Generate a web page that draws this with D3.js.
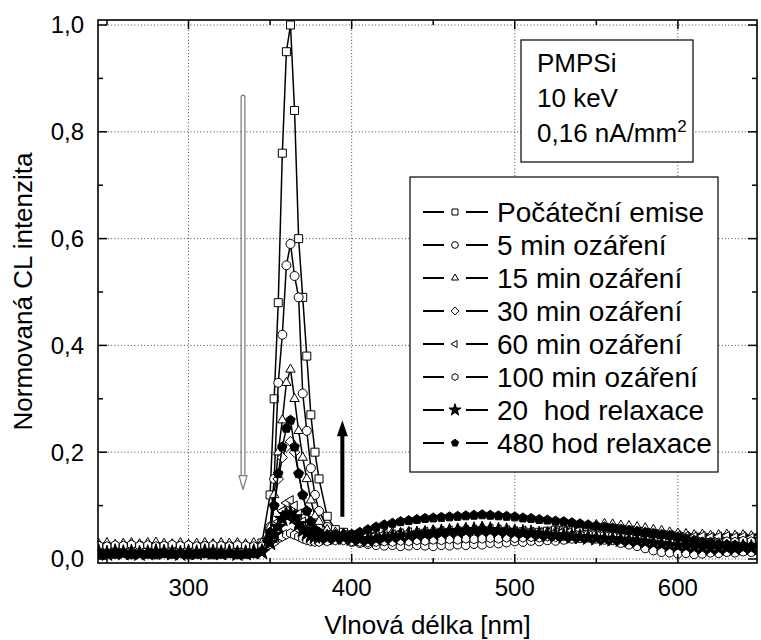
<!DOCTYPE html>
<html>
<head>
<meta charset="utf-8">
<script src="https://cdn.jsdelivr.net/npm/d3@7"></script>
<style>
  body { margin: 0; background: #fff; }
  svg { display: block; }
  text { font-family: "Liberation Sans", Arial, sans-serif; fill: #000; white-space: pre; }
</style>
</head>
<body>
<div id="chart"></div>
<script>
// vlnove delky [nm]
var wavelengths = [
  245,250,255,260,265,270,275,280,285,290,295,300,305,310,315,320,325,330,335,340,
  345,350,352.5,355,357.5,360,362.5,365,367.5,370,372.5,375,377.5,380,385,390,
  395,400,405,410,415,420,425,430,435,440,445,450,455,460,465,470,475,480,485,490,
  495,500,505,510,515,520,525,530,535,540,545,550,555,560,565,570,575,580,585,590,
  595,600,605,610,615,620,625,630,635,640,645,650
];

var seriesNames = [
  "Počáteční emise", "5 min ozáření", "15 min ozáření", "30 min ozáření",
  "60 min ozáření", "100 min ozáření", "20  hod relaxace", "480 hod relaxace"
];
var seriesSymbols = ["square", "circle", "triangle", "diamond", "triLeft", "hexagon", "star", "pentagon"];

var pocatecni = [
  0.02,0.018,0.021,0.019,0.02,0.018,0.019,0.021,0.02,0.019,0.018,0.02,0.019,0.021,0.02,0.018,0.019,0.02,0.019,0.021,
  0.03,0.12,0.3,0.48,0.76,0.95,1.0,0.84,0.6,0.49,0.38,0.27,0.2,0.15,0.08,0.055,
  0.05,0.045,0.04,0.04,0.042,0.04,0.043,0.045,0.044,0.046,0.048,0.047,0.05,0.049,0.05,0.052,0.05,0.053,0.051,0.05,
  0.052,0.05,0.051,0.049,0.05,0.052,0.054,0.053,0.055,0.056,0.055,0.057,0.056,0.055,0.054,0.052,0.05,0.049,0.047,0.046,
  0.045,0.043,0.042,0.04,0.041,0.04,0.038,0.04,0.039,0.04,0.038,0.04
];
var min5 = [
  0.022,0.025,0.023,0.024,0.022,0.023,0.021,0.022,0.02,0.021,0.022,0.02,0.021,0.019,0.02,0.021,0.02,0.019,0.02,0.021,
  0.02,0.06,0.15,0.33,0.42,0.55,0.59,0.53,0.49,0.31,0.24,0.17,0.12,0.09,0.06,0.045,
  0.04,0.032,0.03,0.028,0.026,0.025,0.026,0.024,0.025,0.026,0.025,0.024,0.026,0.025,0.027,0.026,0.028,0.027,0.03,0.029,
  0.031,0.033,0.032,0.034,0.033,0.035,0.034,0.036,0.038,0.039,0.04,0.038,0.036,0.035,0.03,0.027,0.024,0.02,0.016,0.013,
  0.012,0.01,0.011,0.009,0.01,0.012,0.011,0.013,0.012,0.014,0.013,0.015
];
var min15 = [
  0.028,0.03,0.027,0.029,0.03,0.028,0.03,0.031,0.029,0.028,0.03,0.027,0.029,0.03,0.028,0.03,0.029,0.03,0.028,0.03,
  0.03,0.06,0.12,0.2,0.26,0.33,0.355,0.3,0.24,0.19,0.15,0.11,0.08,0.07,0.055,0.05,
  0.048,0.046,0.045,0.047,0.046,0.048,0.05,0.049,0.051,0.05,0.052,0.054,0.053,0.055,0.056,0.058,0.057,0.06,0.058,0.056,
  0.055,0.054,0.052,0.05,0.049,0.05,0.052,0.054,0.057,0.06,0.062,0.064,0.066,0.065,0.063,0.062,0.06,0.058,0.055,0.053,
  0.05,0.048,0.047,0.045,0.046,0.044,0.045,0.046,0.044,0.045,0.043,0.045
];
var min30 = [
  0.018,0.02,0.017,0.019,0.018,0.02,0.019,0.017,0.018,0.02,0.019,0.018,0.017,0.019,0.018,0.02,0.018,0.017,0.019,0.018,
  0.022,0.05,0.1,0.15,0.19,0.21,0.22,0.2,0.16,0.12,0.09,0.07,0.055,0.05,0.042,0.04,
  0.04,0.038,0.036,0.035,0.036,0.038,0.037,0.039,0.04,0.041,0.04,0.042,0.043,0.042,0.044,0.045,0.044,0.046,0.045,0.044,
  0.045,0.043,0.044,0.042,0.043,0.044,0.045,0.046,0.048,0.05,0.051,0.05,0.049,0.047,0.045,0.043,0.04,0.038,0.036,0.034,
  0.033,0.032,0.031,0.03,0.03,0.029,0.03,0.028,0.029,0.03,0.028,0.03
];
var min60 = [
  0.022,0.02,0.023,0.021,0.022,0.024,0.022,0.021,0.023,0.022,0.021,0.023,0.022,0.024,0.022,0.021,0.023,0.022,0.021,0.022,
  0.022,0.035,0.05,0.07,0.09,0.105,0.11,0.1,0.085,0.07,0.058,0.05,0.047,0.045,0.045,0.046,
  0.045,0.043,0.042,0.044,0.045,0.047,0.046,0.048,0.05,0.049,0.051,0.05,0.052,0.053,0.052,0.054,0.055,0.054,0.056,0.055,
  0.054,0.052,0.053,0.051,0.05,0.049,0.05,0.052,0.053,0.055,0.056,0.058,0.057,0.056,0.054,0.052,0.05,0.049,0.047,0.046,
  0.045,0.044,0.043,0.042,0.043,0.041,0.042,0.043,0.041,0.042,0.04,0.042
];
var min100 = [
  0.025,0.024,0.026,0.025,0.027,0.025,0.026,0.024,0.025,0.027,0.025,0.026,0.024,0.025,0.026,0.025,0.024,0.026,0.025,0.024,
  0.024,0.028,0.032,0.038,0.042,0.046,0.048,0.045,0.042,0.038,0.035,0.033,0.032,0.032,0.033,0.035,
  0.035,0.033,0.032,0.031,0.032,0.033,0.032,0.034,0.033,0.035,0.034,0.036,0.035,0.037,0.036,0.038,0.037,0.038,0.039,0.038,
  0.04,0.039,0.04,0.041,0.04,0.042,0.041,0.043,0.044,0.045,0.046,0.045,0.044,0.043,0.041,0.04,0.038,0.036,0.034,0.033,
  0.032,0.031,0.03,0.031,0.03,0.032,0.031,0.033,0.032,0.034,0.033,0.035
];
var hod20 = [
  0.012,0.01,0.013,0.011,0.012,0.01,0.011,0.013,0.012,0.011,0.01,0.012,0.011,0.013,0.012,0.011,0.012,0.01,0.011,0.013,
  0.013,0.03,0.045,0.06,0.075,0.082,0.085,0.078,0.065,0.055,0.048,0.044,0.042,0.041,0.04,0.04,
  0.04,0.038,0.037,0.036,0.038,0.04,0.041,0.043,0.044,0.046,0.047,0.048,0.05,0.051,0.052,0.053,0.054,0.055,0.054,0.053,
  0.052,0.05,0.049,0.048,0.046,0.045,0.044,0.043,0.042,0.041,0.04,0.039,0.038,0.037,0.036,0.035,0.034,0.032,0.03,0.028,
  0.026,0.025,0.024,0.022,0.021,0.02,0.02,0.021,0.02,0.022,0.021,0.02
];
var hod480 = [
  0.008,0.01,0.009,0.011,0.008,0.01,0.009,0.008,0.01,0.009,0.011,0.008,0.009,0.01,0.008,0.009,0.01,0.008,0.009,0.01,
  0.015,0.05,0.1,0.16,0.21,0.245,0.26,0.21,0.16,0.12,0.09,0.07,0.055,0.05,0.045,0.045,
  0.045,0.046,0.05,0.055,0.06,0.064,0.067,0.07,0.072,0.074,0.076,0.077,0.078,0.079,0.08,0.081,0.082,0.083,0.082,0.081,
  0.08,0.079,0.077,0.076,0.074,0.073,0.071,0.07,0.068,0.066,0.064,0.062,0.06,0.058,0.056,0.054,0.052,0.05,0.048,0.046,
  0.044,0.041,0.038,0.035,0.032,0.03,0.028,0.027,0.026,0.025,0.024,0.025
];
var seriesValues = [pocatecni, min5, min15, min30, min60, min100, hod20, hod480];

var xTicks = [300, 400, 500, 600];
var yTicks = [0, 0.2, 0.4, 0.6, 0.8, 1.0];
var infoLines = ["PMPSi", "10 keV", "0,16 nA/mm"];

var width = 761, height = 640;
var plot = {left: 98, right: 757, top: 20, bottom: 563};

var svg = d3.select("#chart").append("svg")
  .attr("width", width)
  .attr("height", height);

var x = d3.scaleLinear().domain([244.5, 648.5]).range([plot.left, plot.right]);
var y = d3.scaleLinear().domain([-0.0075, 1.0094]).range([plot.bottom, plot.top]);

svg.append("defs").append("clipPath").attr("id", "clip")
  .append("rect")
  .attr("x", plot.left).attr("y", plot.top)
  .attr("width", plot.right - plot.left).attr("height", plot.bottom - plot.top);

// mrizka - teckovane cary
var grid = svg.append("g");
grid.selectAll(".gx").data(xTicks).enter().append("line")
  .attr("x1", function(d) { return x(d); }).attr("x2", function(d) { return x(d); })
  .attr("y1", plot.top).attr("y2", plot.bottom)
  .attr("stroke", "#444").attr("stroke-width", 1).attr("stroke-dasharray", "1,2.3");
grid.selectAll(".gy").data(yTicks).enter().append("line")
  .attr("x1", plot.left).attr("x2", plot.right)
  .attr("y1", function(d) { return y(d); }).attr("y2", function(d) { return y(d); })
  .attr("stroke", "#444").attr("stroke-width", 1).attr("stroke-dasharray", "1,2.3");

// tvary znacek
function polygon(n, r, start) {
  var pts = [];
  for (var i = 0; i < n; i++) {
    var a = start + i * 2 * Math.PI / n;
    pts.push([r * Math.cos(a), r * Math.sin(a)]);
  }
  return "M" + pts.map(function(p) { return p[0].toFixed(2) + "," + p[1].toFixed(2); }).join("L") + "Z";
}
function markerPath(type, s) {
  switch (type) {
    case "square": return "M" + (-s) + "," + (-s) + "h" + (2 * s) + "v" + (2 * s) + "h" + (-2 * s) + "Z";
    case "circle": return d3.symbol(d3.symbolCircle, Math.PI * s * s * 1.25)();
    case "triangle": return polygon(3, s * 1.35, -Math.PI / 2);
    case "diamond": return polygon(4, s * 1.3, -Math.PI / 2);
    case "triLeft": return polygon(3, s * 1.35, Math.PI);
    case "hexagon": return polygon(6, s * 1.15, -Math.PI / 2);
    case "star": return d3.symbol(d3.symbolStar, s * s * 5)();
    case "pentagon": return polygon(5, s * 1.25, -Math.PI / 2);
  }
}
var filled = {star: true, pentagon: true};

var line = d3.line()
  .x(function(d) { return x(d[0]); })
  .y(function(d) { return y(d[1]); });

var dataG = svg.append("g").attr("clip-path", "url(#clip)");
seriesValues.forEach(function(vals, si) {
  var pts = wavelengths.map(function(w, i) { return [w, vals[i]]; });
  var g = dataG.append("g");
  g.append("path").datum(pts)
    .attr("d", line)
    .attr("fill", "none").attr("stroke", "#000").attr("stroke-width", 1.5);
  var type = seriesSymbols[si];
  g.selectAll("path.m").data(pts).enter().append("path")
    .attr("class", "m")
    .attr("d", markerPath(type, 4))
    .attr("transform", function(d) { return "translate(" + x(d[0]) + "," + y(d[1]) + ")"; })
    .attr("fill", filled[type] ? "#000" : "#fff")
    .attr("stroke", "#000").attr("stroke-width", 1);
});

// sipky
var arrowX1 = 333.4, arrowX2 = 394.3;
var ga = svg.append("g");
var ax = x(arrowX1), aTop = y(0.865), aTip = y(0.13);
ga.append("line").attr("x1", ax).attr("x2", ax).attr("y1", aTop).attr("y2", aTip - 10)
  .attr("stroke", "#808080").attr("stroke-width", 5).attr("stroke-linecap", "round");
ga.append("line").attr("x1", ax).attr("x2", ax).attr("y1", aTop).attr("y2", aTip - 8)
  .attr("stroke", "#fff").attr("stroke-width", 2.4).attr("stroke-linecap", "round");
ga.append("path")
  .attr("d", "M" + (ax - 4) + "," + (aTip - 14) + "L" + (ax + 4) + "," + (aTip - 14) + "L" + ax + "," + aTip + "Z")
  .attr("fill", "#fff").attr("stroke", "#808080").attr("stroke-width", 1.3).attr("stroke-linejoin", "round");

var bx = x(arrowX2), bBot = y(0.079), bTip = y(0.26);
ga.append("line").attr("x1", bx).attr("x2", bx).attr("y1", bBot).attr("y2", bTip + 12)
  .attr("stroke", "#000").attr("stroke-width", 4);
ga.append("path")
  .attr("d", "M" + (bx - 5.5) + "," + (bTip + 16) + "L" + (bx + 5.5) + "," + (bTip + 16) + "L" + bx + "," + bTip + "Z")
  .attr("fill", "#000");

// ramecek a tiky
var frame = svg.append("g");
frame.append("rect")
  .attr("x", plot.left).attr("y", plot.top)
  .attr("width", plot.right - plot.left).attr("height", plot.bottom - plot.top)
  .attr("fill", "none").attr("stroke", "#000").attr("stroke-width", 1.6);

var xMinor = d3.range(250, 650, 50);
var yMinor = d3.range(0, 1.01, 0.1);
function tickLen(major) { return major ? 9 : 5; }
xMinor.forEach(function(t) {
  var major = t % 100 === 0, L = tickLen(major);
  frame.append("line").attr("x1", x(t)).attr("x2", x(t)).attr("y1", plot.bottom).attr("y2", plot.bottom - L)
    .attr("stroke", "#000").attr("stroke-width", 1.5);
  frame.append("line").attr("x1", x(t)).attr("x2", x(t)).attr("y1", plot.top).attr("y2", plot.top + L)
    .attr("stroke", "#000").attr("stroke-width", 1.5);
});
yMinor.forEach(function(t, i) {
  var major = i % 2 === 0, L = tickLen(major);
  frame.append("line").attr("x1", plot.left).attr("x2", plot.left + L).attr("y1", y(t)).attr("y2", y(t))
    .attr("stroke", "#000").attr("stroke-width", 1.5);
  frame.append("line").attr("x1", plot.right).attr("x2", plot.right - L).attr("y1", y(t)).attr("y2", y(t))
    .attr("stroke", "#000").attr("stroke-width", 1.5);
});

var fmt = function(d) { return d3.format(".1f")(d).replace(".", ","); };
svg.selectAll(".xl").data(xTicks).enter().append("text")
  .attr("x", function(d) { return x(d); }).attr("y", 596)
  .attr("text-anchor", "middle").attr("font-size", 24)
  .text(function(d) { return d; });
svg.selectAll(".yl").data(yTicks).enter().append("text")
  .attr("x", 84).attr("y", function(d) { return y(d); }).attr("dy", "0.35em")
  .attr("text-anchor", "end").attr("font-size", 24)
  .text(fmt);

svg.append("text")
  .attr("x", (plot.left + plot.right) / 2).attr("y", 634)
  .attr("text-anchor", "middle").attr("font-size", 26)
  .text("Vlnová délka [nm]");
svg.append("text")
  .attr("transform", "translate(32," + ((plot.top + plot.bottom) / 2) + ") rotate(-90)")
  .attr("text-anchor", "middle").attr("font-size", 26)
  .text("Normovaná CL intenzita");

// informacni box
var info = svg.append("g");
info.append("rect").attr("x", 521).attr("y", 40).attr("width", 172).attr("height", 122)
  .attr("fill", "#fff").attr("stroke", "#000").attr("stroke-width", 1.2);
infoLines.forEach(function(t, i) {
  var tx = info.append("text").attr("x", 537).attr("y", 72 + i * 35).attr("font-size", 26).text(t);
  if (i === 2) tx.append("tspan").attr("dy", -10).attr("font-size", 17).text("2");
});

// legenda
var legend = svg.append("g");
legend.append("rect").attr("x", 410).attr("y", 177).attr("width", 308).attr("height", 295)
  .attr("fill", "#fff").attr("stroke", "#000").attr("stroke-width", 1.2);
seriesNames.forEach(function(name, i) {
  var ly = 212 + i * 33;
  legend.append("line").attr("x1", 423).attr("x2", 444).attr("y1", ly).attr("y2", ly)
    .attr("stroke", "#000").attr("stroke-width", 2);
  legend.append("line").attr("x1", 466).attr("x2", 488).attr("y1", ly).attr("y2", ly)
    .attr("stroke", "#000").attr("stroke-width", 2);
  var type = seriesSymbols[i];
  legend.append("path").attr("d", markerPath(type, 3))
    .attr("transform", "translate(455," + ly + ")")
    .attr("fill", filled[type] ? "#000" : "#fff")
    .attr("stroke", "#000").attr("stroke-width", 1);
  legend.append("text").attr("x", 497).attr("y", ly).attr("dy", "0.35em")
    .attr("font-size", 28).text(name);
});
</script>
</body>
</html>
